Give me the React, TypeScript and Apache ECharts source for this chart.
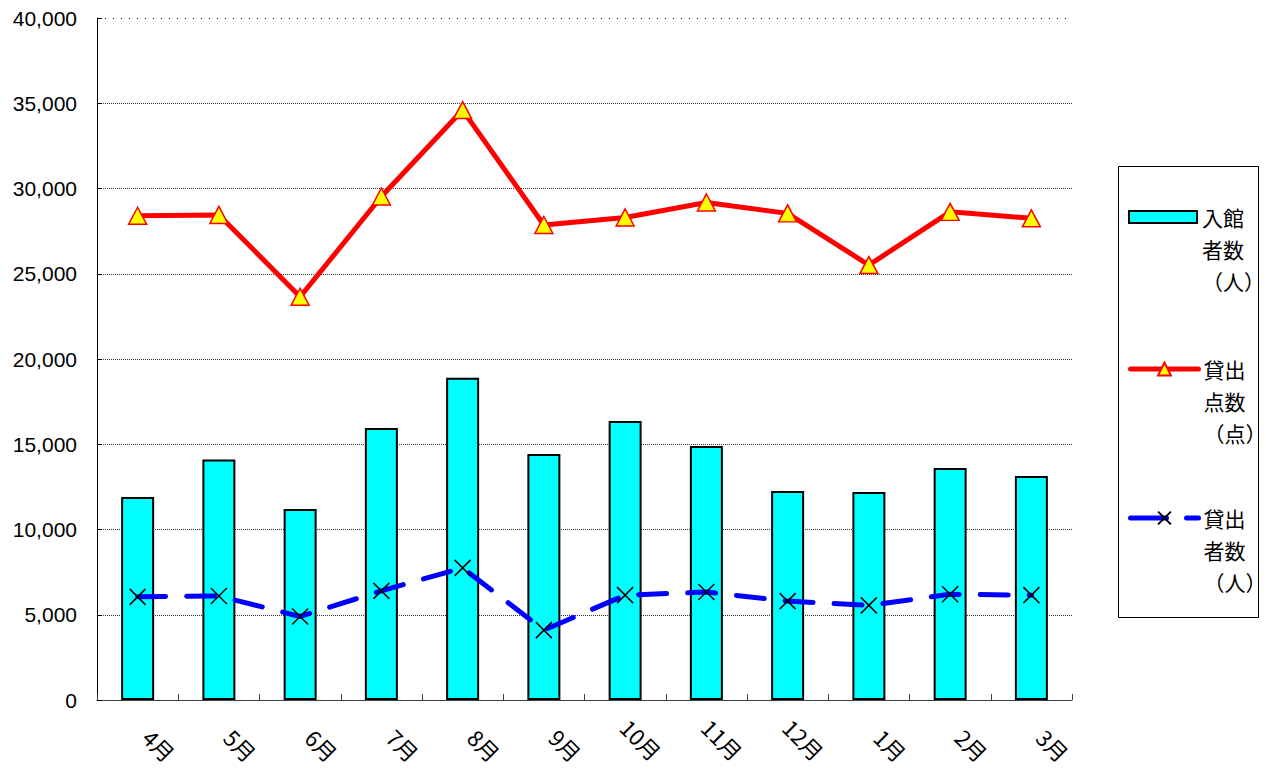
import React, { useEffect, useRef } from "react";
import * as echarts from "echarts";

const months = ["4月", "5月", "6月", "7月", "8月", "9月", "10月", "11月", "12月", "1月", "2月", "3月"];
const visitors = [11900, 14100, 11200, 15950, 18900, 14430, 16370, 14900, 12260, 12200, 13600, 13140];
const loanItems = [28400, 28450, 23650, 29530, 34600, 27860, 28300, 29180, 28540, 25510, 28630, 28250];
const loanPersons = [6050, 6100, 4900, 6400, 7750, 4100, 6150, 6330, 5800, 5550, 6200, 6150];
const seriesNames = ["入館\n者数\n（人）", "貸出\n点数\n（点）", "貸出\n者数\n（人）"];
const yTicks = { min: 0, max: 40000, interval: 5000 };

const FONT = "'Liberation Sans', 'Noto Sans CJK JP', sans-serif";
const CJK = "'Noto Sans CJK JP', 'Liberation Sans', sans-serif";

export default function App() {
  const ref = useRef<HTMLDivElement>(null);
  useEffect(() => {
    if (!ref.current) return;
    const chart = echarts.init(ref.current, undefined, { renderer: "svg" });
    const legendText = {
      fontSize: 21,
      lineHeight: 32,
      fontFamily: CJK,
      color: "#000",
    };
    const legendBase = {
      orient: "vertical",
      left: 1128,
      padding: 0,
      itemWidth: 68,
      itemGap: 0,
      selectedMode: false,
      textStyle: legendText,
      formatter: (name: string) => "\n\n" + name,
    };
    chart.setOption({
      animation: false,
      backgroundColor: "#fff",
      grid: {
        left: 97,
        right: 194,
        top: 18,
        bottom: 75,
        containLabel: false,
        outerBoundsMode: "none",
      },
      xAxis: {
        type: "category",
        data: months,
        boundaryGap: true,
        axisLine: { show: true, lineStyle: { color: "#404040", width: 1 } },
        axisTick: { show: true, inside: true, length: 6, lineStyle: { color: "#404040" } },
        axisLabel: {
          interval: 0,
          rotate: -45,
          fontSize: 22,
          fontFamily: CJK,
          color: "#000",
          margin: 23,
          formatter: (v: string) => (v.length >= 3 ? `{t|${v}}` : `{s|}{t|${v}}`),
          rich: {
            s: { width: 14 },
            t: { fontSize: 22, fontFamily: CJK, color: "#000" },
          },
        },
        splitLine: { show: false },
      },
      yAxis: {
        type: "value",
        min: yTicks.min,
        max: yTicks.max,
        interval: yTicks.interval,
        axisLine: { show: true, lineStyle: { color: "#000", width: 1 } },
        axisTick: { show: true, inside: true, length: 5, lineStyle: { color: "#000" } },
        axisLabel: {
          fontSize: 21,
          fontFamily: FONT,
          color: "#000",
          margin: 20,
          formatter: (v: number) => v.toLocaleString("en-US"),
        },
        splitLine: {
          show: true,
          showMaxLine: false,
          lineStyle: { color: "#333", type: [1, 1], width: 1 },
        },
      },
      legend: [
        { ...legendBase, data: [seriesNames[0]], top: 217 - 80, icon: "rect", itemHeight: 12 },
        {
          ...legendBase,
          data: [seriesNames[1]],
          top: 369 - 80,
          itemHeight: 16,
          lineStyle: { width: 5, color: "#FF0000", cap: "round" },
        },
        {
          ...legendBase,
          data: [seriesNames[2]],
          top: 518 - 80,
          itemHeight: 16,
          lineStyle: { width: 5, color: "#0000FF", type: [36, 20], cap: "round" },
        },
      ],
      graphic: [
        {
          type: "rect",
          shape: { x: 1118.5, y: 166.5, width: 140, height: 451 },
          style: { fill: "none", stroke: "#000", lineWidth: 1 },
          silent: true,
        },
      ],
      series: [
        {
          name: seriesNames[0],
          type: "bar",
          data: visitors,
          barWidth: 33,
          itemStyle: { color: "#00FFFF", borderColor: "#000", borderWidth: 2 },
          markLine: {
            silent: true,
            symbol: "none",
            label: { show: false },
            lineStyle: { color: "#000", type: [1, 7], width: 1 },
            data: [{ yAxis: 40000 }],
          },
        },
        {
          name: seriesNames[1],
          type: "line",
          data: loanItems,
          symbol: "triangle",
          symbolSize: [18, 17],
          lineStyle: { color: "#FF0000", width: 5 },
          itemStyle: { color: "#FFFF00", borderColor: "#FF0000", borderWidth: 1.5 },
          z: 3,
        },
        {
          name: seriesNames[2],
          type: "line",
          data: loanPersons,
          symbol: "path://M0,0L16,16M16,0L0,16",
          symbolSize: 16,
          lineStyle: { color: "#0000FF", width: 5, type: [28, 21], cap: "round" },
          itemStyle: { color: "#000", borderColor: "#000", borderWidth: 1.5 },
          z: 3,
        },
      ],
    });
    return () => chart.dispose();
  }, []);
  return (
    <div
      ref={ref}
      style={{ position: "absolute", left: 0, top: 0, width: "1266px", height: "775px" }}
    />
  );
}
